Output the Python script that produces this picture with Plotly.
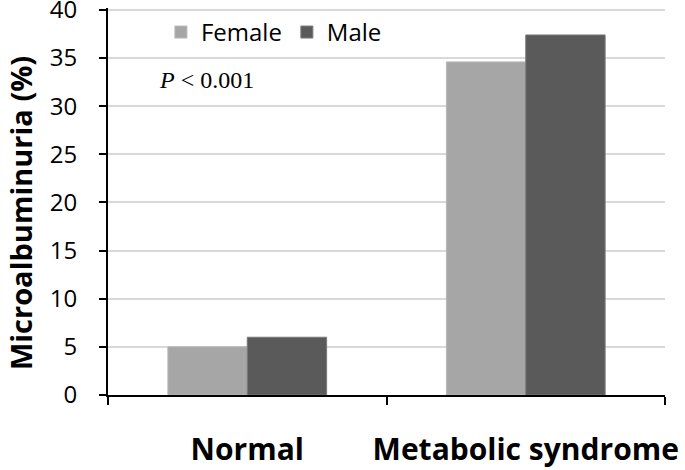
import plotly.graph_objects as go

categories = ["Normal", "Metabolic syndrome"]
female = [5.0, 34.6]
male = [6.0, 37.4]
y_ticks = [0, 5, 10, 15, 20, 25, 30, 35, 40]

fig = go.Figure()
fig.add_trace(go.Bar(x=categories, y=female, name="Female",
                     marker=dict(color="#a6a6a6", line=dict(color="#b8b8b8", width=1))))
fig.add_trace(go.Bar(x=categories, y=male, name="Male",
                     marker=dict(color="#5a5a5a", line=dict(color="#7a7a7a", width=1))))

fig.update_layout(
    width=685, height=470,
    margin=dict(l=108, r=20, t=8, b=75, autoexpand=False),
    plot_bgcolor="white", paper_bgcolor="white",
    barmode="group", bargap=0.43, bargroupgap=0,
    font=dict(family="Open Sans, Liberation Sans, sans-serif", color="black"),
    legend=dict(orientation="h", x=0.095, y=0.995, xanchor="left", yanchor="top",
                font=dict(size=24, family="Open Sans, sans-serif"),
                bgcolor="rgba(0,0,0,0)", itemwidth=30, traceorder="normal"),
    showlegend=True,
)
fig.update_yaxes(range=[0, 40.2], tickvals=y_ticks, showgrid=True, gridcolor="#d9d9d9",
                 gridwidth=2, showline=True, linecolor="black", linewidth=2,
                 ticks="outside", ticklen=7, tickwidth=2, tickcolor="black",
                 tickfont=dict(size=24), automargin=False, ticklabeloverflow="allow",
                 ticklabelstandoff=17, zeroline=False)
fig.update_xaxes(showline=True, linecolor="black", linewidth=2, ticks="outside",
                 tickson="boundaries", ticklen=8, tickwidth=2, tickcolor="black",
                 tickfont=dict(size=30, family="Open Sans, sans-serif"), automargin=False,
                 tickangle=0,
                 ticktext=["<b>Normal</b>", "<b>Metabolic syndrome</b>"],
                 tickvals=categories, ticklabelstandoff=27)
fig.add_annotation(xref="paper", yref="paper", x=-0.158, y=0.47, xanchor="center", yanchor="middle",
                   text="<b>Microalbuminuria (%)</b>", textangle=-90, showarrow=False,
                   font=dict(size=29, color="black"))
fig.add_annotation(xref="paper", yref="paper", x=0.088, y=0.815, xanchor="left", yanchor="middle",
                   text="<i>P</i> &lt; 0.001", showarrow=False,
                   font=dict(family="Liberation Serif, Times New Roman, serif", size=24, color="black"))
fig.write_html("out.html", config={"displayModeBar": False},
               post_script="document.body.style.margin='0';")
